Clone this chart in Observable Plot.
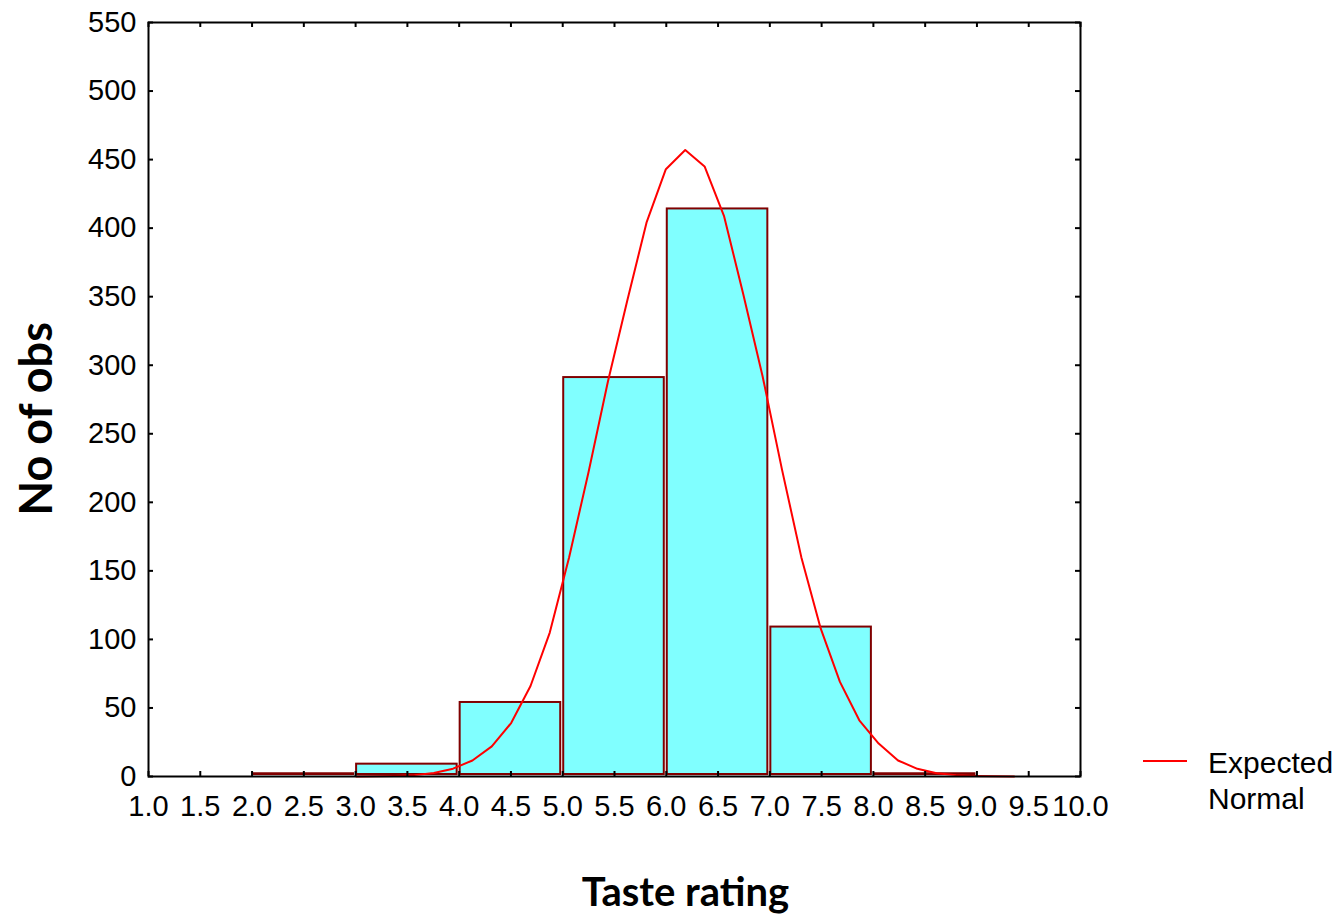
<!DOCTYPE html>
<html>
<head>
<meta charset="utf-8">
<script src="https://cdn.jsdelivr.net/npm/d3@7"></script>
<script src="https://cdn.jsdelivr.net/npm/@observablehq/plot@0.6"></script>
<style>
  html, body { margin: 0; padding: 0; background: #fff; }
</style>
</head>
<body>
<div id="chart"></div>
<script>
// Histogram bins (Taste rating)
const binLo = [2, 3, 4, 5, 6, 7, 8];
const binHi = [3, 4, 5, 6, 7, 8, 9];
const binCount = [2, 9, 54, 291, 414, 109, 2];

// Expected normal curve
const curveX = [3.007, 3.194, 3.381, 3.568, 3.755, 3.941, 4.128, 4.315, 4.502, 4.689, 4.875, 5.062, 5.249, 5.436, 5.623, 5.809, 5.996, 6.183, 6.370, 6.557, 6.743, 6.930, 7.117, 7.304, 7.491, 7.677, 7.864, 8.051, 8.238, 8.425, 8.611, 8.798, 8.985, 9.172, 9.359];
const curveY = [0.05, 0.1, 0.4, 1.0, 2.5, 5.7, 11.7, 22, 39, 66, 105, 160, 222, 288, 347, 404, 443, 457, 445, 409, 352, 292, 224, 160, 108, 69, 41, 24, 11.7, 5.6, 2.4, 1.0, 0.4, 0.1, 0.05];

const xTicks = [1.0, 1.5, 2.0, 2.5, 3.0, 3.5, 4.0, 4.5, 5.0, 5.5, 6.0, 6.5, 7.0, 7.5, 8.0, 8.5, 9.0, 9.5, 10.0];
const yTicks = [0, 50, 100, 150, 200, 250, 300, 350, 400, 450, 500, 550];

const bins = binLo.map((lo, i) => ({lo, hi: binHi[i], count: binCount[i]}));
const curve = curveX.map((x, i) => ({x, y: curveY[i]}));

const W = 1341, H = 917, ML = 148, MR = 261, MT = 22, MB = 141;
const innerW = W - ML - MR, innerH = H - MT - MB;

const chart = Plot.plot({
  width: W, height: H,
  marginLeft: ML, marginRight: MR, marginTop: MT, marginBottom: MB,
  x: {domain: [1, 10]},
  y: {domain: [0, 550]},
  style: {fontFamily: "'Liberation Sans', Arial, sans-serif", fontSize: "29px", color: "black", background: "white"},
  marks: [
    Plot.rectY(bins, {x1: "lo", x2: "hi", y: "count", fill: "#80ffff", stroke: "#800000", strokeWidth: 2,
      insetLeft: 1, insetRight: 2, insetBottom: 2}),
    Plot.line(curve, {x: "x", y: "y", stroke: "#ff0000", strokeWidth: 2}),
    Plot.tickX(xTicks, {x: d => d, stroke: "black", strokeWidth: 2, insetTop: innerH - 5}),
    Plot.tickX(xTicks, {x: d => d, stroke: "black", strokeWidth: 2, insetBottom: innerH - 5}),
    Plot.tickY(yTicks, {y: d => d, stroke: "black", strokeWidth: 2, insetRight: innerW - 5}),
    Plot.tickY(yTicks, {y: d => d, stroke: "black", strokeWidth: 2, insetLeft: innerW - 5}),
    Plot.frame({stroke: "black", strokeWidth: 2}),
    Plot.axisX(xTicks, {tickSize: 0, tickPadding: 19, fontSize: 29, tickFormat: d => d.toFixed(1), label: null}),
    Plot.axisY(yTicks, {tickSize: 0, tickPadding: 12, fontSize: 29, label: null}),
    Plot.text(["Taste rating"], {frameAnchor: "bottom", dx: 71, dy: 129, fontWeight: "bold", fontSize: 40, fontFamily: "Lato, sans-serif"}),
    Plot.text(["No of obs"], {frameAnchor: "left", rotate: -90, dx: -111, dy: 116, fontWeight: "bold", fontSize: 45, fontFamily: "Lato, sans-serif"})
  ]
});

// Legend
const svg = d3.select(chart);
const lg = svg.append("g").attr("font-family", "'Liberation Sans', Arial, sans-serif").attr("font-size", 30).attr("text-anchor", "start");
lg.append("line").attr("x1", 1143).attr("x2", 1187).attr("y1", 761).attr("y2", 761).attr("stroke", "#ff0000").attr("stroke-width", 2);
lg.append("text").attr("x", 1208).attr("y", 773).attr("fill", "black").text("Expected");
lg.append("text").attr("x", 1208).attr("y", 809).attr("fill", "black").text("Normal");

document.getElementById("chart").appendChild(chart);
</script>
</body>
</html>
